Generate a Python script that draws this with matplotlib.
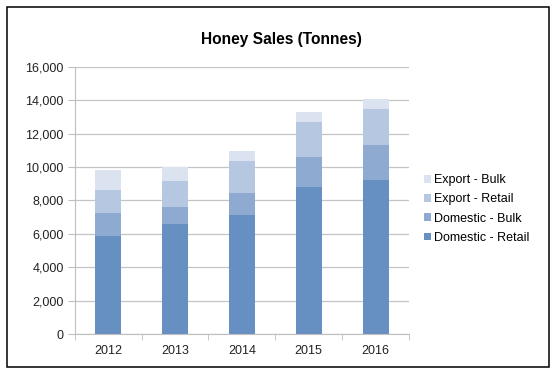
import matplotlib
matplotlib.use("Agg")
import matplotlib.pyplot as plt
from matplotlib.patches import Rectangle
import numpy as np

plt.rcParams["font.family"] = ["Liberation Sans", "DejaVu Sans"]

years = ["2012", "2013", "2014", "2015", "2016"]
domestic_retail = [5870, 6570, 7110, 8830, 9250]
domestic_bulk = [1380, 1020, 1360, 1760, 2080]
export_retail = [1360, 1600, 1880, 2110, 2130]
export_bulk = [1190, 840, 630, 600, 620]

series = [
    ("Domestic - Retail", domestic_retail, "#668fc2"),
    ("Domestic - Bulk", domestic_bulk, "#8eaad1"),
    ("Export - Retail", export_retail, "#b6c7e2"),
    ("Export - Bulk", export_bulk, "#dbe3f1"),
]

fig = plt.figure(figsize=(5.58, 3.78), dpi=100)
# outer frame around the whole chart
fig.patches.append(Rectangle((7 / 558, 11 / 378), 542 / 558, 360 / 378,
                             transform=fig.transFigure, fill=False,
                             edgecolor="black", linewidth=1.1))

ax = fig.add_axes([0.134, 0.1164, 0.599, 0.7064])
x = np.arange(len(years))
bottom = np.zeros(len(years))
handles = []
for name, vals, color in series:
    b = ax.bar(x, vals, width=0.39, bottom=bottom, color=color, label=name, zorder=2)
    handles.append(b)
    bottom += np.array(vals)

ax.set_xlim(-0.5, len(years) - 0.5)
ax.set_ylim(0, 16000)
ax.set_yticks(np.arange(0, 16001, 2000))
ax.set_yticklabels([f"{v:,}" for v in range(0, 16001, 2000)])
ax.set_xticks(x)
ax.set_xticklabels(years)
ax.set_xticks(np.arange(-0.5, len(years), 1.0), minor=True)
ax.tick_params(axis="x", which="major", length=0, pad=8, labelsize=9, labelcolor="#222222")
ax.tick_params(axis="x", which="minor", length=4, color="#bfbfbf")
ax.tick_params(axis="y", length=5, color="#bfbfbf", labelsize=9, labelcolor="#222222", pad=3)
ax.grid(axis="y", color="#c4c4c4", linewidth=0.9, zorder=0)
ax.set_axisbelow(True)
for s in ["top", "right"]:
    ax.spines[s].set_visible(False)
for s in ["left", "bottom"]:
    ax.spines[s].set_color("#bfbfbf")

fig.text(0.5036, 0.896, "Honey Sales (Tonnes)", ha="center", va="center",
         fontsize=11.2, fontweight="bold")

fig.legend(handles[::-1], [s[0] for s in series][::-1],
           loc="center left", bbox_to_anchor=(0.739, 0.447), frameon=False,
           fontsize=9, handlelength=0.6, handleheight=0.6, handletextpad=0.25,
           labelspacing=0.58)

fig.savefig("out.png", dpi=100)
